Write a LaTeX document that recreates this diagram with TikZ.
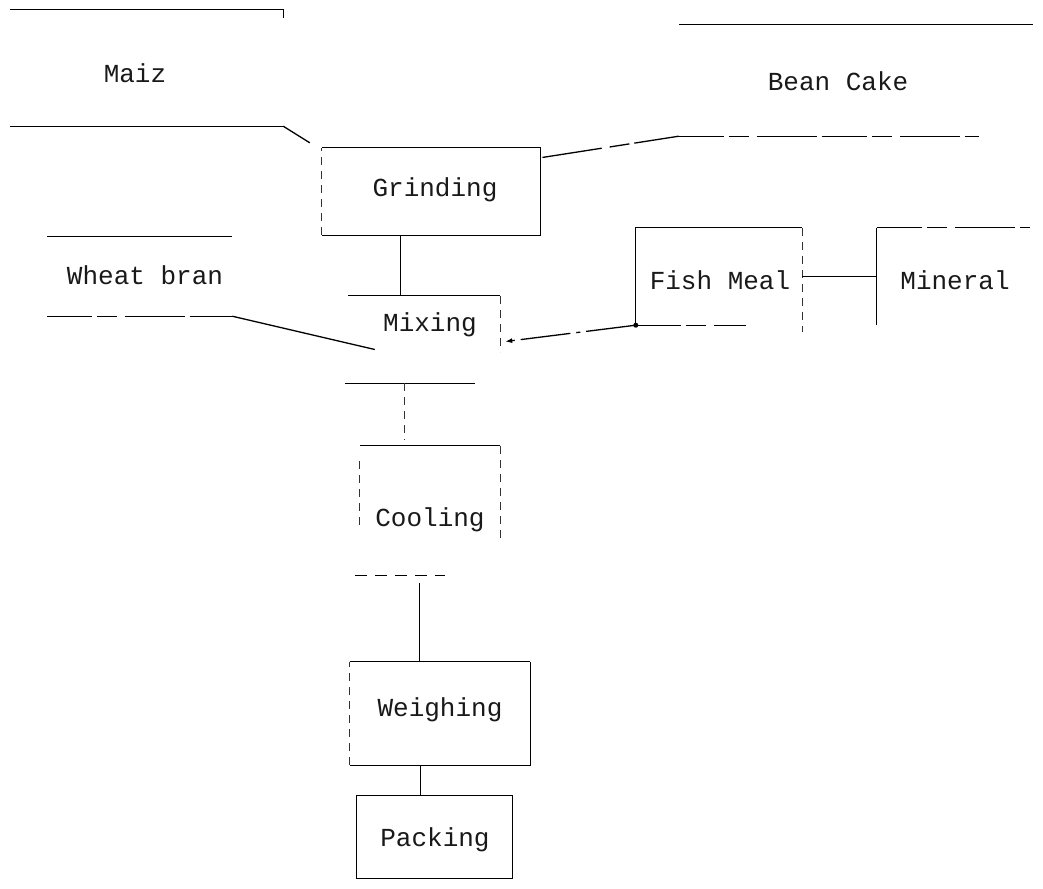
\documentclass[tikz,border=0pt]{standalone}
\usepackage{fontspec}
\setmonofont{Liberation Mono}
\usetikzlibrary{calc,arrows.meta}
\begin{document}
\begin{tikzpicture}[x=1pt,y=-1pt,
  ln/.style={line width=1.3pt,black},
  dsh/.style={line width=1.3pt,black,dash pattern=on 45pt off 5pt on 20pt off 8pt on 60pt off 5pt},
  sparse/.style={line width=1pt,black!80,dash pattern=on 8pt off 6pt},
  box/.style={inner sep=0pt,font=\ttfamily\fontsize{26}{28}\selectfont},
  txt/.style={inner sep=0pt,font=\ttfamily\fontsize{26}{28}\selectfont,text=black!90}]
\useasboundingbox (0,0) rectangle (1043,888);
% nodes
\node[box,minimum width=273pt,minimum height=116pt] (maiz) at (146.5,68) {};
\node[txt] (maiztext) at (135,73) {Maiz};
\node[box,minimum width=354pt,minimum height=111pt] (bean) at (856,80.5) {};
\node[txt] (beantext) at (838,81) {Bean Cake};
\node[box,minimum width=218pt,minimum height=87pt] (grinding) at (431,191.5) {};
\node[txt] (grindtext) at (435,190) {Grinding};
\node[box,minimum width=185pt,minimum height=79pt] (wheat) at (139.5,276.5) {};
\node[txt] (wheattext) at (145,275) {Wheat bran};
\node[box,minimum width=155pt,minimum height=87pt] (mixing) at (422.5,339.5) {};
\node[txt] (mixtext) at (430,325) {Mixing};
\node[box,minimum width=166pt,minimum height=97pt] (fish) at (719,276.5) {};
\node[txt] (fishtext) at (720,280) {Fish Meal};
\node[box,minimum width=153pt,minimum height=97pt] (mineral) at (953.5,276.5) {};
\node[txt] (mintext) at (955,280) {Mineral};
\node[box,minimum width=140pt,minimum height=129pt] (cooling) at (430,510.5) {};
\node[txt] (cooltext) at (430,520) {Cooling};
\node[box,minimum width=180pt,minimum height=103pt] (weighing) at (440,713.5) {};
\node[txt] (weightext) at (440,710) {Weighing};
\node[box,minimum width=155pt,minimum height=82pt] (packing) at (434.5,837) {};
\node[txt] (packtext) at (435,840) {Packing};
% Maiz (open box)
\draw[ln] (maiz.north west) -- (maiz.north east) -- ++(0,8);
\draw[ln] (maiz.south west) -- (maiz.south east);
% Bean Cake
\draw[ln] (bean.north west) -- (bean.north east);
\draw[dsh] (bean.south west) -- ($(bean.south west)+(300,0)$);
% Grinding
\draw[ln] (grinding.north west) -- (grinding.north east) -- (grinding.south east) -- (grinding.south west);
\draw[sparse] (grinding.south west) -- (grinding.north west);
% Wheat bran
\draw[ln] (wheat.north west) -- (wheat.north east);
\draw[dsh] (wheat.south west) -- (wheat.south east);
% Mixing
\draw[ln] ($(mixing.north west)+(3,0)$) -- (mixing.north east);
\draw[sparse] (mixing.north east) -- ($(mixing.north east)+(0,56)$);
\draw[ln] (mixing.south west) -- ($(mixing.south east)+(-25,0)$);
% Fish Meal
\draw[ln] (fish.south west) -- (fish.north west) -- (fish.north east);
\draw[sparse] (fish.north east) -- ($(fish.south east)+(0,7)$);
\draw[dsh] (fish.south west) -- ($(fish.south west)+(110,0)$);
\fill[black] (fish.south west) circle (2.5pt);
% Mineral
\draw[ln] (mineral.south west) -- (mineral.north west);
\draw[dsh] (mineral.north west) -- (mineral.north east);
% Cooling
\draw[ln] (cooling.north west) -- (cooling.north east);
\draw[sparse] (cooling.north east) -- ($(cooling.south east)+(0,-35)$);
\draw[sparse] ($(cooling.north west)+(0,15)$) -- ($(cooling.south west)+(0,-50)$);
\draw[line width=1.3pt,dash pattern=on 12pt off 8pt] ($(cooling.south west)+(-5,0)$) -- ($(cooling.south west)+(85,0)$);
% Weighing
\draw[ln] (weighing.north west) -- (weighing.north east);
\draw[ln] (weighing.south west) -- (weighing.south east) -- (weighing.north east);
\draw[sparse] (weighing.south west) -- (weighing.north west);
% Packing
\draw[ln] (packing.north west) rectangle (packing.south east);
% connectors
\draw[ln] (maiz.south east) -- ($(grinding.north west)+(-12,-5)$);
\draw[dsh] (bean.south west) -- ($(grinding.north east)+(0,10)$);
\coordinate (g1) at ($(grinding.south west)+(79,0)$);
\draw[ln] (g1) -- (g1 |- mixing.north);
\draw[ln] (wheat.south east) -- ($(mixing.west)+(30,10)$);
\draw[ln,dash pattern=on 50pt off 6pt on 4pt off 6pt,-{Latex[length=7pt,width=5pt]}] (fish.south west) -- ($(mixing.east)+(5,2)$);
\draw[ln] (fish.east) -- (mineral.west);
\coordinate (m1) at ($(mixing.south west)+(60,0)$);
\draw[sparse] (m1) -- ($(m1 |- cooling.north)+(0,-6)$);
\coordinate (c1) at ($(cooling.south west)+(60,8)$);
\draw[ln] (c1) -- (c1 |- weighing.north);
\coordinate (w1) at ($(weighing.south west)+(71,0)$);
\draw[ln] (w1) -- (w1 |- packing.north);
\end{tikzpicture}
\end{document}
